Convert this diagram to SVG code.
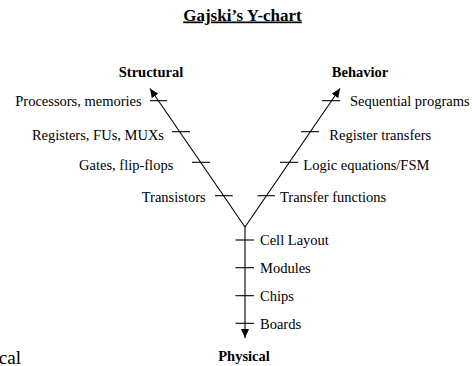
<svg xmlns="http://www.w3.org/2000/svg" width="472" height="366" viewBox="0 0 472 366">
  <style>
    text { fill: #000; }
    .title { font-size: 17px; font-weight: bold; text-decoration: underline; text-anchor: middle; }
    .axis { font-size: 14.5px; font-weight: bold; text-anchor: middle; }
    .lvl { font-size: 14.5px; }
    .lft { text-anchor: end; }
    .big { font-size: 19px; text-anchor: end; }
    .ax { stroke: #000; stroke-width: 1.1; fill: none; }
    .tick { stroke: #000; stroke-width: 1.1; }
  </style>
  <defs>
    <marker id="arrow" markerUnits="userSpaceOnUse" markerWidth="9" markerHeight="8" refX="9" refY="4" orient="auto">
      <path d="M0,0 L9,4 L0,8 z" fill="#000"/>
    </marker>
  </defs>

  <rect width="472" height="366" fill="#fff"/>

  <g font-family="'Liberation Serif', 'DejaVu Serif', serif">
  <g id="title"><text class="title" x="242.5" y="20.5">Gajski’s Y-chart</text></g>

  <!-- axes of the Y and their level ticks -->
  <g id="connectors">
    <line class="ax" x1="245" y1="227" x2="150" y2="88.5" marker-end="url(#arrow)"/>
    <line class="ax" x1="245" y1="227" x2="340" y2="88.5" marker-end="url(#arrow)"/>
    <line class="ax" x1="245" y1="227" x2="245" y2="338" marker-end="url(#arrow)"/>
    <!-- structural ticks -->
    <line class="tick" x1="150" y1="100.7" x2="167" y2="100.7"/>
    <line class="tick" x1="172" y1="131.7" x2="190" y2="131.7"/>
    <line class="tick" x1="192" y1="162.3" x2="210" y2="162.3"/>
    <line class="tick" x1="215" y1="195.7" x2="232.7" y2="195.7"/>
    <!-- behavioral ticks -->
    <line class="tick" x1="322" y1="100.7" x2="340" y2="100.7"/>
    <line class="tick" x1="301" y1="131.7" x2="319" y2="131.7"/>
    <line class="tick" x1="280" y1="162.3" x2="298.3" y2="162.3"/>
    <line class="tick" x1="257.5" y1="195.7" x2="275" y2="195.7"/>
    <!-- physical ticks -->
    <line class="tick" x1="235.5" y1="240" x2="254" y2="240"/>
    <line class="tick" x1="235.5" y1="267.7" x2="254" y2="267.7"/>
    <line class="tick" x1="235.5" y1="295.7" x2="254" y2="295.7"/>
    <line class="tick" x1="235.5" y1="323.3" x2="254" y2="323.3"/>
  </g>

  <g id="structural"><text class="axis" x="151" y="77">Structural</text></g>
  <g id="behavior"><text class="axis" x="360" y="77">Behavior</text></g>
  <g id="physical"><text class="axis" x="244" y="361">Physical</text></g>

  <g id="s-processors"><text class="lvl lft" x="141.7" y="106">Processors, memories</text></g>
  <g id="s-registers"><text class="lvl lft" x="164" y="140">Registers, FUs, MUXs</text></g>
  <g id="s-gates"><text class="lvl lft" x="173.3" y="170">Gates, flip-flops</text></g>
  <g id="s-transistors"><text class="lvl lft" x="205.7" y="201.7">Transistors</text></g>

  <g id="b-sequential"><text class="lvl" x="350" y="106">Sequential programs</text></g>
  <g id="b-register"><text class="lvl" x="329.3" y="140">Register transfers</text></g>
  <g id="b-logic"><text class="lvl" x="303.3" y="170">Logic equations/FSM</text></g>
  <g id="b-transfer"><text class="lvl" x="280" y="201.7">Transfer functions</text></g>

  <g id="p-cell"><text class="lvl" x="260" y="245">Cell Layout</text></g>
  <g id="p-modules"><text class="lvl" x="260" y="273">Modules</text></g>
  <g id="p-chips"><text class="lvl" x="260" y="301">Chips</text></g>
  <g id="p-boards"><text class="lvl" x="260" y="329">Boards</text></g>

  <g id="edge-fragment"><text class="big" x="21" y="363.5">cal</text></g>
  </g>
</svg>
